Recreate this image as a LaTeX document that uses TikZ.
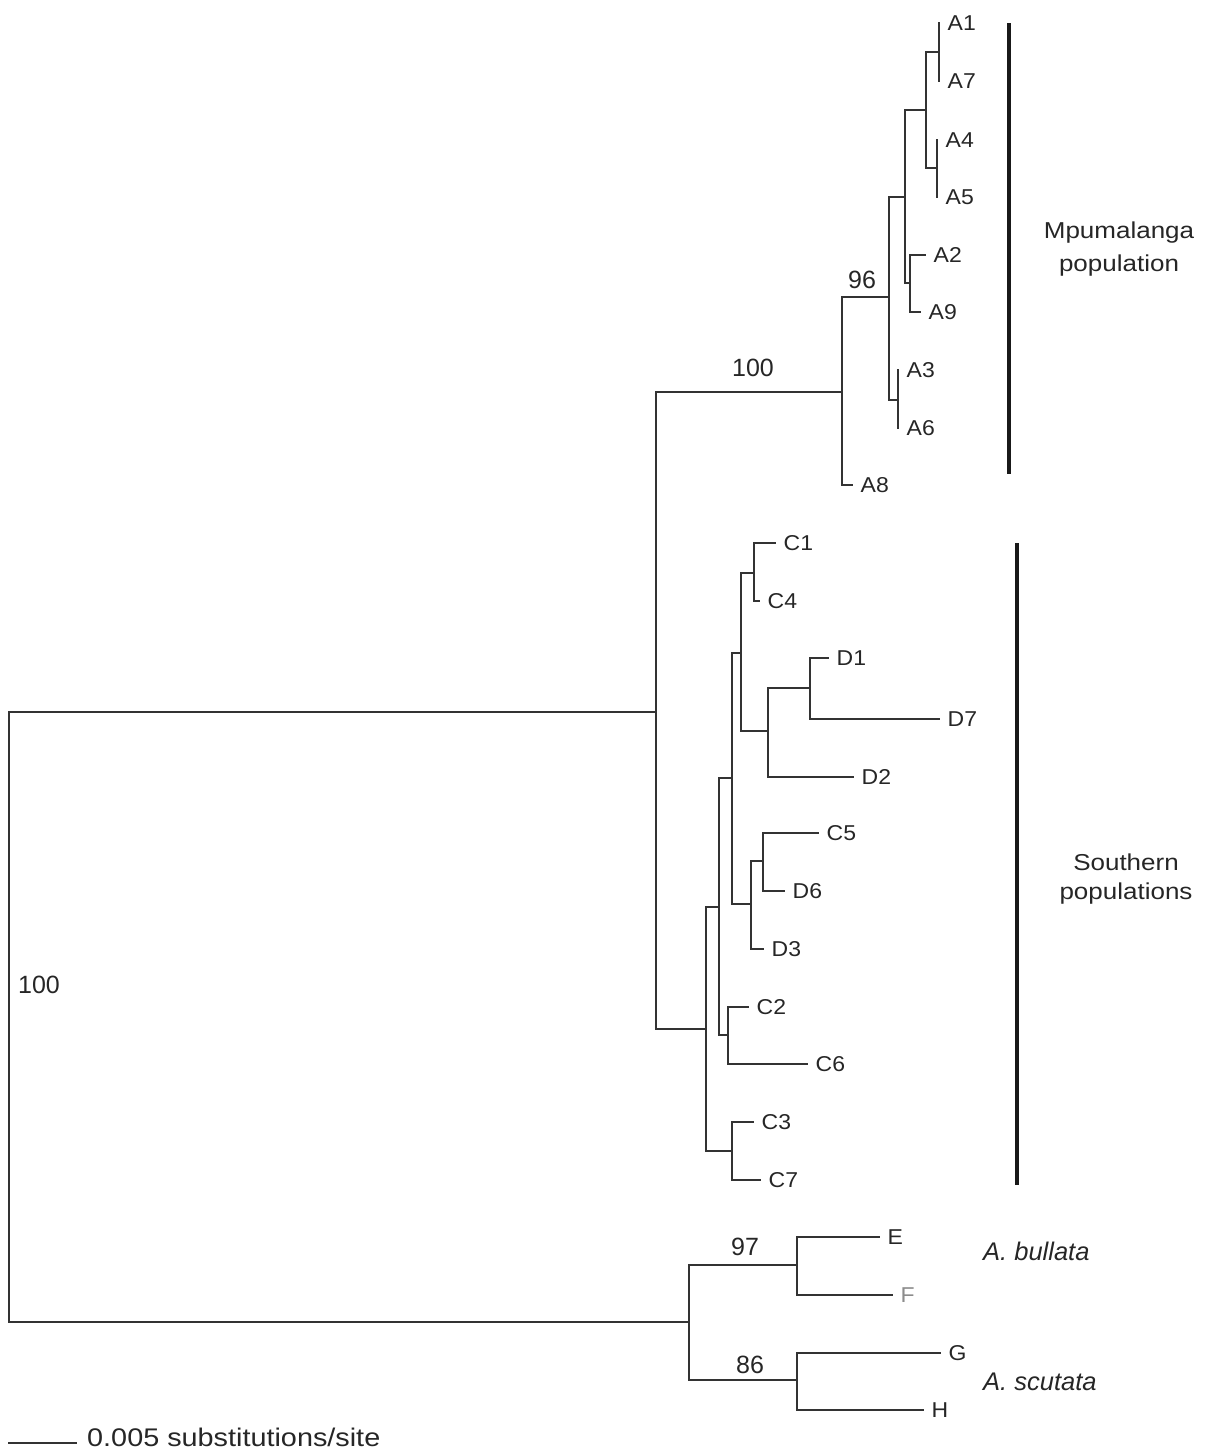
\documentclass[tikz,border=0pt]{standalone}
\usepackage{fontspec}
\setmainfont{Liberation Sans}
\newfontfamily\widefont[FakeStretch=1.13]{Liberation Sans}
\newfontfamily\leaffont[FakeStretch=1.07]{Liberation Sans}
\tikzset{
  br/.style={draw=black!80, line width=1.4pt, line cap=rect},
  leaf/.style={anchor=west, inner xsep=8.5pt, inner ysep=0pt, text=black!85, font=\fontsize{21.5}{25}\selectfont\leaffont},
  bootlab/.style={inner sep=0pt, text=black!85, font=\fontsize{25}{30}\selectfont},
  grpbar/.style={draw=black!90, line width=3.5pt},
  grplab/.style={inner sep=0pt, align=center, text=black!85},
  spec/.style={anchor=west, inner sep=0pt, text=black!85, font=\fontsize{25.5}{30}\selectfont\itshape}
}
\begin{document}
\begin{tikzpicture}[x=1pt,y=-1pt]
\useasboundingbox (0,0) rectangle (1205,1454);
% internal nodes
\coordinate (root) at (9,1017);
\coordinate (nAll) at (656,712);
\coordinate (nA) at (842,392);
\coordinate (nA1) at (889,297);
\coordinate (nA2) at (905,197);
\coordinate (nA4) at (926,110);
\coordinate (nA17) at (939,52);
\coordinate (nA45) at (937,168);
\coordinate (nA29) at (910,283);
\coordinate (nA36) at (898,400);
\coordinate (nCD) at (706,1029);
\coordinate (nCD1) at (719,907);
\coordinate (nCD2) at (732,778);
\coordinate (nCD3) at (741,653);
\coordinate (nC14) at (754,573);
\coordinate (nD) at (768,731);
\coordinate (nD17) at (810,688);
\coordinate (nD3) at (751,904);
\coordinate (nC5) at (763,861);
\coordinate (nC26) at (728,1035);
\coordinate (nC37) at (732,1151);
\coordinate (nEH) at (689,1322);
\coordinate (nEF) at (797,1265);
\coordinate (nGH) at (797,1380);
% leaves
\node[leaf] (A1) at (939,23) {A1};
\node[leaf] (A7) at (939,81) {A7};
\node[leaf] (A4) at (937,140) {A4};
\node[leaf] (A5) at (937,197) {A5};
\node[leaf] (A2) at (925,255) {A2};
\node[leaf] (A9) at (920,312) {A9};
\node[leaf] (A3) at (898,370) {A3};
\node[leaf] (A6) at (898,428) {A6};
\node[leaf] (A8) at (852,485) {A8};
\node[leaf] (C1) at (775,543) {C1};
\node[leaf] (C4) at (759,601) {C4};
\node[leaf] (D1) at (828,658) {D1};
\node[leaf] (D7) at (939,719) {D7};
\node[leaf] (D2) at (853,777) {D2};
\node[leaf] (C5) at (818,833) {C5};
\node[leaf] (D6) at (784,891) {D6};
\node[leaf] (D3) at (763,949) {D3};
\node[leaf] (C2) at (748,1007) {C2};
\node[leaf] (C6) at (807,1064) {C6};
\node[leaf] (C3) at (753,1122) {C3};
\node[leaf] (C7) at (760,1180) {C7};
\node[leaf] (E) at (879,1237) {E};
\node[leaf, text=black!45] (F) at (892,1295) {F};
\node[leaf] (G) at (940,1353) {G};
\node[leaf] (H) at (923,1410) {H};
% edges
\draw[br] (root) |- (nAll);
\draw[br] (root) |- (nEH);
\draw[br] (nAll) |- (nA);
\draw[br] (nAll) |- (nCD);
\draw[br] (nA) |- (nA1);
\draw[br] (nA) |- (A8.west);
\draw[br] (nA1) |- (nA2);
\draw[br] (nA1) |- (nA36);
\draw[br] (nA2) |- (nA4);
\draw[br] (nA2) |- (nA29);
\draw[br] (nA4) |- (nA17);
\draw[br] (nA4) |- (nA45);
\draw[br] (nA17) |- (A1.west);
\draw[br] (nA17) |- (A7.west);
\draw[br] (nA45) |- (A4.west);
\draw[br] (nA45) |- (A5.west);
\draw[br] (nA29) |- (A2.west);
\draw[br] (nA29) |- (A9.west);
\draw[br] (nA36) |- (A3.west);
\draw[br] (nA36) |- (A6.west);
\draw[br] (nCD) |- (nCD1);
\draw[br] (nCD) |- (nC37);
\draw[br] (nCD1) |- (nCD2);
\draw[br] (nCD1) |- (nC26);
\draw[br] (nCD2) |- (nCD3);
\draw[br] (nCD2) |- (nD3);
\draw[br] (nCD3) |- (nC14);
\draw[br] (nCD3) |- (nD);
\draw[br] (nC14) |- (C1.west);
\draw[br] (nC14) |- (C4.west);
\draw[br] (nD) |- (nD17);
\draw[br] (nD) |- (D2.west);
\draw[br] (nD17) |- (D1.west);
\draw[br] (nD17) |- (D7.west);
\draw[br] (nD3) |- (nC5);
\draw[br] (nD3) |- (D3.west);
\draw[br] (nC5) |- (C5.west);
\draw[br] (nC5) |- (D6.west);
\draw[br] (nC26) |- (C2.west);
\draw[br] (nC26) |- (C6.west);
\draw[br] (nC37) |- (C3.west);
\draw[br] (nC37) |- (C7.west);
\draw[br] (nEH) |- (nEF);
\draw[br] (nEH) |- (nGH);
\draw[br] (nEF) |- (E.west);
\draw[br] (nEF) |- (F.west);
\draw[br] (nGH) |- (G.west);
\draw[br] (nGH) |- (H.west);
% bootstrap values
\node[bootlab] (b100r) at (39,985) {100};
\node[bootlab] (b100a) at (753,368) {100};
\node[bootlab] (b96) at (862,280) {96};
\node[bootlab] (b97) at (745,1247) {97};
\node[bootlab] (b86) at (750,1365) {86};
% group bars
\coordinate (mbt) at (1009,23);
\coordinate (mbb) at (1009,474);
\coordinate (sbt) at (1017,543);
\coordinate (sbb) at (1017,1185);
\draw[grpbar] (mbt) -- (mbb);
\draw[grpbar] (sbt) -- (sbb);
\node[grplab, font=\fontsize{23}{33}\selectfont\widefont] (mpu) at (1119,249) {Mpumalanga\\population};
\node[grplab, font=\fontsize{23}{29}\selectfont\widefont] (sou) at (1126,879) {Southern\\populations};
\node[spec] (bul) at (983,1251) {A. bullata};
\node[spec] (scu) at (983,1382) {A. scutata};
% scale bar
\coordinate (s1) at (8,1443);
\coordinate (s2) at (77,1443);
\draw[draw=black!80, line width=1.4pt] (s1) -- (s2);
\node[anchor=base west, inner sep=0pt, text=black!85, font=\fontsize{25.5}{28}\selectfont\widefont] (scl) at (87,1446) {0.005 substitutions/site};
\end{tikzpicture}
\end{document}
